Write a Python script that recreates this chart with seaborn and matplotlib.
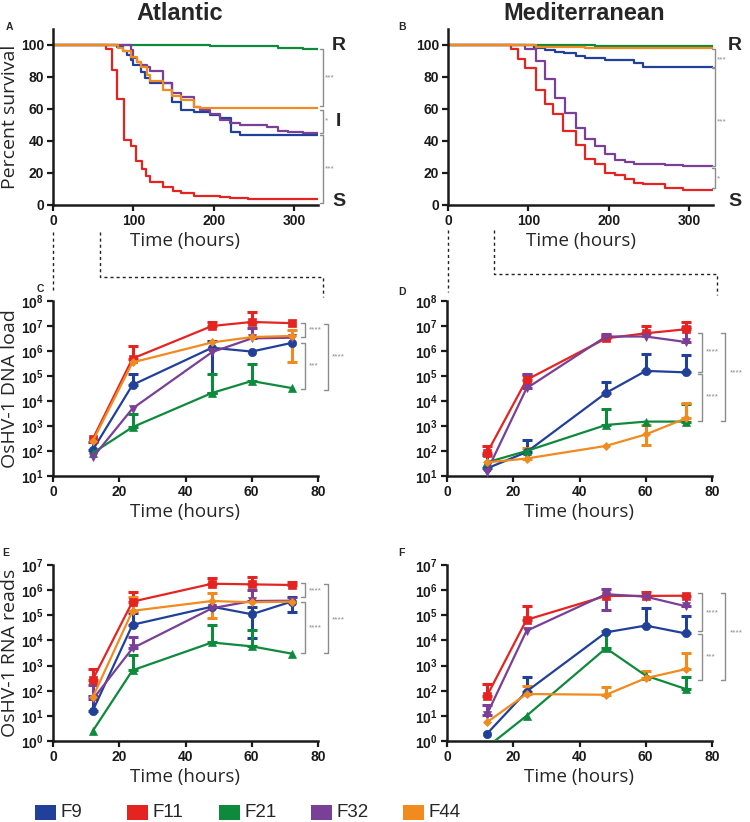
import matplotlib
matplotlib.use("Agg")
import matplotlib.pyplot as plt
from matplotlib.lines import Line2D
from matplotlib.patches import Rectangle
import seaborn as sns

# -----------------------------------------------------------
# Data
# -----------------------------------------------------------
strains = ["F9", "F11", "F21", "F32", "F44"]
colors = {"F9": "#21409A", "F11": "#E52421", "F21": "#0E8A3C",
          "F32": "#7A3F96", "F44": "#F18A1F"}
markers = {"F9": "o", "F11": "s", "F21": "^", "F32": "v", "F44": "D"}

# survival (Kaplan-Meier steps), Atlantic
atl_t = {
    "F9": [0, 80, 87.5, 92.5, 97, 100, 110, 115, 121, 148, 160, 175, 195, 208, 222, 233, 330],
    "F11": [0, 66, 74, 80, 88, 97, 103, 111, 116, 121, 137, 149, 160, 175, 208, 220, 243, 330],
    "F21": [0, 196, 280, 311, 330],
    "F32": [0, 96.7, 100, 104, 110, 116.6, 121, 137, 148, 160, 175, 183, 195, 208, 220, 233, 266, 280, 293, 311, 330],
    "F44": [0, 81, 87.5, 97, 104, 110, 117, 121, 137, 148, 160, 175, 183, 330],
}
atl_s = {
    "F9": [100, 98.5, 96.2, 93.8, 90.6, 87.5, 83.3, 79.2, 76.0, 64.6, 59.6, 58.3, 56.5, 54.2, 45.8, 43.8, 43.8],
    "F11": [100, 97.3, 84.4, 66.3, 40.6, 36.9, 27.7, 22.2, 18.1, 14.6, 11.5, 9.0, 7.8, 5.7, 4.9, 4.4, 3.6, 3.6],
    "F21": [100, 99.2, 98, 97.3, 97.3],
    "F32": [100, 97, 92, 89.6, 87.5, 86.5, 84, 76, 70.3, 67.7, 61.5, 59.4, 57, 53.1, 51.5, 50, 48.5, 46.5, 45.8, 44.8, 44.8],
    "F44": [100, 98, 96, 92.7, 89.6, 86.5, 81.3, 77.7, 71.9, 68.1, 65.6, 61.5, 60.4, 60.4],
}

# survival, Mediterranean
med_t = {
    "F9": [0, 107, 120.5, 133, 145, 160, 171, 195, 232, 243, 330],
    "F11": [0, 79, 87, 95.6, 110, 120.5, 131, 143.3, 160, 171, 182.6, 195, 207.4, 220, 232, 243, 270, 292.3, 330],
    "F21": [0, 110, 182.6, 330],
    "F32": [0, 95.6, 110, 120.5, 133, 145.3, 160, 171, 182.6, 195, 207.4, 220, 232, 270, 292.3, 330],
    "F44": [0, 110, 171, 330],
}
med_s = {
    "F9": [100, 98, 97, 95.8, 94.8, 93.3, 91.6, 90.6, 88.5, 86.5, 86.5],
    "F11": [100, 97.3, 91, 85.8, 71.9, 63, 57, 46.3, 37.6, 28.6, 25.5, 20.2, 18.8, 16, 14, 13, 10.6, 9.6, 9.6],
    "F21": [100, 99.7, 99.2, 99.2],
    "F32": [100, 97.3, 90, 78.8, 66.7, 57.8, 48.4, 41.2, 37, 32, 27.9, 26.9, 25.8, 25.2, 24.2, 24.2],
    "F44": [100, 99, 98, 98],
}

hours = [12, 24, 48, 60, 72]

# OsHV-1 DNA load, Atlantic
dna_atl = {
    "F9": [110, 4.4e4, 1.35e6, 9.5e5, 2.1e6],
    "F11": [300, 5e5, 1.0e7, 1.45e7, 1.3e7],
    "F21": [83, 900, 2.1e4, 6.3e4, 3.3e4],
    "F32": [55, 5e3, 9e5, 3.2e6, 3.4e6],
    "F44": [250, 3.5e5, 2.2e6, 3.6e6, 4e6],
}
dna_atl_hi = {
    "F9": [230, 1.2e5, 2.6e6, None, None],
    "F11": [None, 1.6e6, 1.5e7, 3.7e7, None],
    "F21": [None, 3e3, 1.2e5, 3e5, None],
    "F32": [None, None, None, 8e6, None],
    "F44": [None, None, None, None, 7e6],
}
dna_atl_lo = {
    "F9": [None, None, 2.1e4, None, None],
    "F44": [None, None, None, None, 3.6e5],
}

# OsHV-1 DNA load, Mediterranean
dna_med = {
    "F9": [20, 90, 2.1e4, 1.6e5, 1.4e5],
    "F11": [80, 7e4, 3.2e6, 5.1e6, 7.4e6],
    "F21": [35, 100, 1.1e3, 1.5e3, 1.5e3],
    "F32": [15, 3.2e4, 3.8e6, 3.8e6, 2.3e6],
    "F44": [35, 50, 160, 460, 2e3],
}
dna_med_hi = {
    "F9": [70, 280, 6e4, 7.6e5, 7e5],
    "F11": [160, 1.1e5, 4.2e6, 1e7, 1.5e7],
    "F21": [None, None, 4.7e3, None, 7.6e3],
    "F32": [None, 1.2e5, 4.8e6, None, 9e6],
    "F44": [None, 130, None, 1.1e3, 8.5e3],
}
dna_med_lo = {
    "F44": [None, None, None, 170, None],
}

# OsHV-1 RNA reads, Atlantic
rna_atl = {
    "F9": [16, 4.2e4, 2.2e5, 1.1e5, 3.5e5],
    "F11": [275, 3.5e5, 1.8e6, 1.7e6, 1.6e6],
    "F21": [2.5, 650, 8.3e3, 5.8e3, 3e3],
    "F32": [45, 4.9e3, 1.9e5, 3.7e5, 3.8e5],
    "F44": [55, 1.5e5, 3.7e5, 3.3e5, 3.5e5],
}
rna_atl_hi = {
    "F9": [60, 1.2e5, None, 2.2e5, 5.3e5],
    "F11": [720, 8.3e5, 3e6, 3.2e6, 2.2e6],
    "F21": [None, 2.7e3, 4.2e4, 2.5e4, None],
    "F32": [170, 1.4e4, None, 1e6, None],
    "F44": [None, 5.5e5, 7.6e5, None, None],
}
rna_atl_lo = {
    "F9": [None, None, None, 1.2e4, 1.3e5],
    "F44": [None, None, 7.6e4, None, None],
}

# OsHV-1 RNA reads, Mediterranean
rna_med = {
    "F9": [1.9, 93, 2.1e4, 3.9e4, 1.9e4],
    "F11": [60, 6.6e4, 5.9e5, 5.9e5, 6e5],
    "F21": [0.56, 10, 4.9e3, 400, 118],
    "F32": [11, 2.4e4, 6.9e5, 5.5e5, 2.3e5],
    "F44": [5.5, 74, 69, 315, 720],
}
rna_med_hi = {
    "F9": [None, 340, None, 1.9e5, 9.5e4],
    "F11": [190, 2.4e5, None, 8.7e5, None],
    "F21": [None, None, 2.4e4, None, 340],
    "F32": [26, None, 1.1e6, None, 6e5],
    "F44": [None, 160, 135, 620, 3.3e3],
}
rna_med_lo = {
    "F32": [None, None, 1.6e5, None, None],
}

# -----------------------------------------------------------
# Style
# -----------------------------------------------------------
sns.set_style("ticks")
plt.rcParams["font.family"] = ["Liberation Sans", "DejaVu Sans"]
plt.rcParams["mathtext.fontset"] = "custom"
plt.rcParams["mathtext.bf"] = "Liberation Sans:bold"
plt.rcParams["mathtext.rm"] = "Liberation Sans"

W, H = 750, 822
fig = plt.figure(figsize=(W / 100, H / 100), dpi=100)

LABEL_FONT = ["Open Sans", "DejaVu Sans"]
GRAY = "#8C8C8C"


def fx(x):
    return x / W


def fy(y):
    return 1 - y / H


def px_axes(l, t, r, b):
    return fig.add_axes([l / W, 1 - b / H, (r - l) / W, (b - t) / H])


def style(ax):
    sns.despine(ax=ax)
    for s in ["left", "bottom"]:
        ax.spines[s].set_linewidth(1.8)
        ax.spines[s].set_color("#1a1a1a")
    ax.tick_params(which="major", width=1.6, length=4.5, pad=2, colors="#1a1a1a")
    ax.tick_params(which="minor", width=1.0, length=2.5)


def bracket(ax, x, y0, y1, tick, text, tx, ty):
    ax.plot([x - tick, x, x, x - tick], [y0, y0, y1, y1], color=GRAY,
            lw=1.0, clip_on=False)
    ax.text(tx, ty, text, color=GRAY, fontsize=6, ha="left", va="center",
            clip_on=False)


def ylabel_at(ax, text, right_px, left_ax_px, width_px):
    # right edge of the rotated label sits at right_px (figure pixels)
    ax.set_ylabel(text, fontsize=14, family=LABEL_FONT)
    ax.yaxis.set_label_coords((right_px - left_ax_px) / width_px, 0.5)


def survival_panel(ax, tt, ss):
    for st in strains:
        sns.lineplot(x=tt[st], y=ss[st], ax=ax, color=colors[st], lw=1.6,
                     drawstyle="steps-post", estimator=None, sort=False)
    style(ax)
    ax.set_xlim(0, 330)
    ax.set_ylim(0, 110)
    ax.set_xticks([0, 100, 200, 300])
    ax.set_xticklabels(["0", "100", "200", "300"], fontweight="bold", fontsize=10)
    ax.set_yticks([0, 20, 40, 60, 80, 100])
    ax.set_yticklabels(["0", "20", "40", "60", "80", "100"], fontweight="bold", fontsize=10)
    ax.set_xlabel("Time (hours)", fontsize=13.5, family=LABEL_FONT, labelpad=3)


def infection_panel(ax, vals, hi, lo, ylo, yhi):
    ax.set_yscale("log")
    for st in strains:
        c = colors[st]
        for i, h in enumerate(hours):
            up = hi.get(st, [None] * 5)[i]
            dn = lo.get(st, [None] * 5)[i]
            if up is None and dn is None:
                continue
            v = vals[st][i]
            e_up = (up - v) if up is not None else 0
            e_dn = (v - dn) if dn is not None else 0
            ax.errorbar([h], [v], yerr=[[e_dn], [e_up]], fmt="none", ecolor=c,
                        elinewidth=2.2, capsize=3.5, capthick=2.2, zorder=2)
        ms = 4.5 if st == "F44" else 6
        sns.lineplot(x=hours, y=vals[st], ax=ax, color=c, lw=1.6,
                     marker=markers[st], markersize=ms, markeredgecolor=c,
                     markeredgewidth=0.5, estimator=None, zorder=3)
    style(ax)
    ax.set_xlim(0, 80)
    ax.set_ylim(ylo, yhi)
    ax.set_xticks([0, 20, 40, 60, 80])
    ax.set_xticklabels(["0", "20", "40", "60", "80"], fontweight="bold", fontsize=10)
    lo_e = len(str(int(ylo))) - 1
    hi_e = len(str(int(yhi))) - 1
    exps = list(range(lo_e, hi_e + 1))
    ax.set_yticks([10.0 ** k for k in exps])
    ax.set_yticklabels([r"$\mathbf{10^{%d}}$" % k for k in exps], fontsize=10)
    ax.set_xlabel("Time (hours)", fontsize=13.5, family=LABEL_FONT, labelpad=3)


# -----------------------------------------------------------
# Panels A / B : survival
# -----------------------------------------------------------
axA = px_axes(53, 29, 318, 205)
survival_panel(axA, atl_t, atl_s)
ylabel_at(axA, "Percent survival", 19, 53, 265)
bracket(axA, 336, 97.3, 61.9, 3, "***", 339, 79.5)
bracket(axA, 336, 59.4, 45.2, 3, "*", 339, 52.3)
bracket(axA, 336, 43.8, 1.3, 3, "***", 339, 22.5)
for lab, yy in [("R", 100), ("I", 52), ("S", 2)]:
    axA.text(356, yy, lab, fontsize=14, fontweight="bold", ha="center", va="center")

axB = px_axes(448, 29, 713, 205)
survival_panel(axB, med_t, med_s)
bracket(axB, 332, 97.3, 86.4, 3, "***", 335, 91)
bracket(axB, 332, 85.4, 24.6, 3, "***", 335, 52)
bracket(axB, 332, 22.9, 10.4, 3, "*", 335, 16.5)
for lab, yy in [("R", 100), ("S", 2)]:
    axB.text(357, yy, lab, fontsize=14, fontweight="bold", ha="center", va="center")

# -----------------------------------------------------------
# Panels C / D : DNA load
# -----------------------------------------------------------
axC = px_axes(53, 301, 318, 476)
infection_panel(axC, dna_atl, dna_atl_hi, dna_atl_lo, 10, 1e8)
ylabel_at(axC, "OsHV-1 DNA load", 19, 53, 265)
bracket(axC, 76, 1.3e7, 3.6e6, 1.2, "****", 77.3, 6.8e6)
bracket(axC, 76, 2.1e6, 3e4, 1.2, "***", 77.3, 2.5e5)
bracket(axC, 83, 1.25e7, 2.8e4, 1.2, "****", 84.3, 6e5)

axD = px_axes(447, 301, 712, 476)
infection_panel(axD, dna_med, dna_med_hi, dna_med_lo, 10, 1e8)
bracket(axD, 77, 5.1e6, 1.5e5, 1.2, "****", 78.3, 9e5)
bracket(axD, 77, 1.25e5, 1.6e3, 1.2, "****", 78.3, 1.4e4)
bracket(axD, 84, 5.1e6, 1.6e3, 1.2, "****", 85.3, 1.3e5)

# -----------------------------------------------------------
# Panels E / F : RNA reads
# -----------------------------------------------------------
axE = px_axes(53, 565, 318, 741)
infection_panel(axE, rna_atl, rna_atl_hi, rna_atl_lo, 1, 1e7)
ylabel_at(axE, "OsHV-1 RNA reads", 19, 53, 265)
bracket(axE, 76, 2e6, 5.2e5, 1.2, "****", 77.3, 9e5)
bracket(axE, 76, 3.5e5, 3.2e3, 1.2, "****", 77.3, 3.2e4)
bracket(axE, 83, 1.8e6, 3.2e3, 1.2, "****", 84.3, 6.3e4)

axF = px_axes(447, 565, 712, 741)
infection_panel(axF, rna_med, rna_med_hi, rna_med_lo, 1, 1e7)
bracket(axF, 77, 7.6e5, 2.4e4, 1.2, "****", 78.3, 1.3e5)
bracket(axF, 77, 1.8e4, 2.6e2, 1.2, "***", 78.3, 2.2e3)
bracket(axF, 84, 7.6e5, 2.6e2, 1.2, "****", 85.3, 2e4)

# -----------------------------------------------------------
# Titles, panel letters, connectors, legend
# -----------------------------------------------------------
fig.text(fx(180), fy(14), "Atlantic", fontsize=17, fontweight="bold", ha="center", va="center")
fig.text(fx(584), fy(14), "Mediterranean", fontsize=17, fontweight="bold", ha="center", va="center")

for lab, x, y in [("A", 9, 27), ("B", 402, 27), ("C", 40, 289),
                  ("D", 402, 292), ("E", 6, 553), ("F", 401, 553)]:
    fig.text(fx(x), fy(y), lab, fontsize=7.5, fontweight="bold", ha="center", va="center")

dash = dict(color="#222222", lw=1.0, linestyle=(0, (2.2, 2.2)), transform=fig.transFigure)
for xs, ys in [([53, 53], [232, 292]),
               ([100, 100, 323, 323], [232, 277, 277, 297]),
               ([448, 448], [230, 292]),
               ([494, 494, 717, 717], [230, 274, 274, 295])]:
    fig.add_artist(Line2D([fx(v) for v in xs], [fy(v) for v in ys], **dash))

# legend row: colour swatch + strain name
for i, st in enumerate(strains):
    x0 = 35 + 92 * i
    fig.add_artist(Rectangle((fx(x0), fy(820)), 21 / W, 15 / H,
                             facecolor=colors[st], edgecolor="none",
                             transform=fig.transFigure))
    fig.text(fx(x0 + 26), fy(812.5), st, fontsize=13.5, ha="left", va="center",
             family=["Liberation Sans Narrow", "Liberation Sans"])

fig.savefig("out.png", dpi=100)
